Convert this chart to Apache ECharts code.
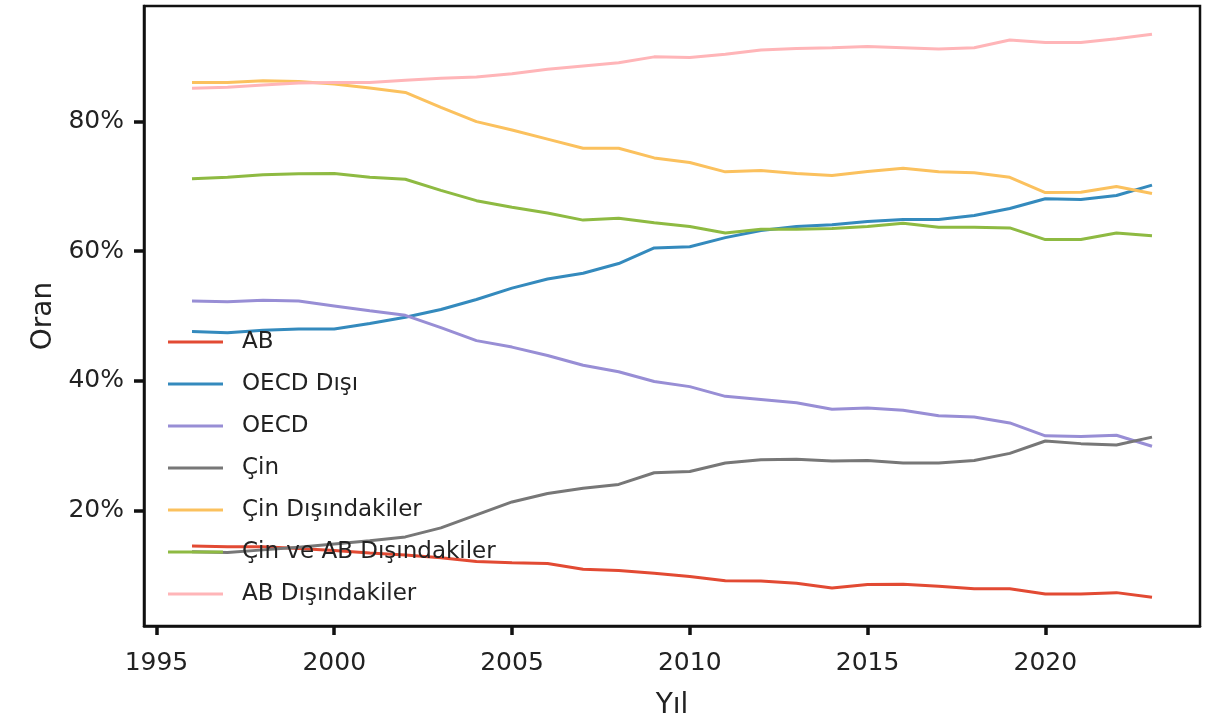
<!DOCTYPE html>
<html>
<head>
<meta charset="utf-8">
<script src="https://cdn.jsdelivr.net/npm/echarts@6/dist/echarts.min.js"></script>
<style>
html,body{margin:0;padding:0;background:#fff;}
#chart{width:1217px;height:725px;}
</style>
</head>
<body>
<div id="chart"></div>
<script>
const years = [1996,1997,1998,1999,2000,2001,2002,2003,2004,2005,2006,2007,2008,2009,2010,2011,2012,2013,2014,2015,2016,2017,2018,2019,2020,2021,2022,2023];

const seriesNames = ['AB','OECD Dışı','OECD','Çin','Çin Dışındakiler','Çin ve AB Dışındakiler','AB Dışındakiler'];

const ab          = [14.5,14.4,14.4,14.1,13.8,13.4,13.1,12.7,12.1,11.9,11.8,10.9,10.7,10.3,9.8,9.15,9.1,8.75,8.0,8.55,8.6,8.3,7.9,7.9,7.1,7.1,7.3,6.6];
const oecdDisi    = [47.6,47.4,47.8,48.0,48.0,48.85,49.8,51.0,52.55,54.3,55.7,56.6,58.1,60.5,60.7,62.1,63.2,63.8,64.1,64.6,64.9,64.9,65.5,66.6,68.1,68.0,68.6,70.2];
const oecd        = [52.3,52.2,52.45,52.3,51.55,50.8,50.1,48.2,46.2,45.2,43.9,42.4,41.4,39.9,39.1,37.6,37.1,36.6,35.6,35.8,35.45,34.6,34.4,33.5,31.5,31.4,31.6,29.9];
const cin         = [13.6,13.5,13.9,14.3,14.8,15.3,15.9,17.3,19.3,21.3,22.6,23.4,24.0,25.8,26.0,27.3,27.8,27.9,27.6,27.7,27.3,27.3,27.7,28.8,30.7,30.3,30.1,31.3];
const cinDisinda  = [86.05,86.05,86.3,86.2,85.8,85.2,84.5,82.2,80.0,78.7,77.3,75.9,75.9,74.4,73.7,72.25,72.45,72.0,71.7,72.3,72.8,72.25,72.1,71.4,69.05,69.1,70.0,68.9];
const cinAbDisinda= [71.2,71.4,71.8,71.95,72.0,71.4,71.1,69.4,67.8,66.8,65.9,64.8,65.1,64.4,63.8,62.8,63.4,63.4,63.5,63.8,64.3,63.7,63.7,63.6,61.8,61.8,62.8,62.4];
const abDisinda   = [85.15,85.3,85.65,85.95,86.05,86.05,86.4,86.7,86.9,87.4,88.1,88.6,89.1,90.0,89.9,90.4,91.05,91.3,91.4,91.6,91.4,91.2,91.4,92.6,92.2,92.2,92.8,93.5];

const xTicks = [1995,2000,2005,2010,2015,2020];
const yTicks = [20,40,60,80];

const allValues = [ab,oecdDisi,oecd,cin,cinDisinda,cinAbDisinda,abDisinda];
const colors = ['#E24A33','#348ABD','#988ED5','#777777','#FBC15E','#8EBA42','#FFB5B8'];

const FONT = 'DejaVu Sans';

const chart = echarts.init(document.getElementById('chart'));
const series = seriesNames.map((n,i)=>({
  name:n, type:'line', symbol:'none', showSymbol:false,
  data: years.map((y,j)=>[y, allValues[i][j]]),
  lineStyle:{width:3, color:colors[i]},
  itemStyle:{color:colors[i]},
  z:2
}));

chart.setOption({
  animation:false,
  backgroundColor:'#fff',
  grid:{left:144,right:17,top:6,bottom:95,show:true,borderColor:'#111',borderWidth:2.5},
  xAxis:{
    type:'value', min:1994.65, max:2024.35,
    name:'Yıl', nameLocation:'middle', nameGap:66,
    nameTextStyle:{fontFamily:FONT,fontSize:28,color:'#222'},
    axisLine:{show:true,onZero:false,lineStyle:{color:'#111',width:2.5}},
    axisTick:{show:true,customValues:xTicks,length:9,lineStyle:{color:'#111',width:3.5}},
    axisLabel:{customValues:xTicks,fontFamily:FONT,fontSize:25,color:'#222',margin:25,formatter:v=>String(v)},
    splitLine:{show:false}
  },
  yAxis:{
    type:'value', min:2.15, max:97.85,
    name:'Oran', nameLocation:'middle', nameGap:86, nameRotate:90,
    nameTextStyle:{fontFamily:FONT,fontSize:28,color:'#222'},
    axisLine:{show:true,onZero:false,lineStyle:{color:'#111',width:2.5}},
    axisTick:{show:true,customValues:yTicks,length:10,lineStyle:{color:'#111',width:3.5}},
    axisLabel:{customValues:yTicks,fontFamily:FONT,fontSize:25,color:'#222',margin:20,formatter:v=>v+'%'},
    splitLine:{show:false}
  },
  legend:{
    orient:'vertical', left:163, top:325,
    data:seriesNames,
    icon:'rect',
    itemWidth:55, itemHeight:3, itemGap:18,
    textStyle:{fontFamily:FONT,fontSize:23,color:'#222',padding:[0,0,0,14],lineHeight:24}
  },
  series:series
});
</script>
</body>
</html>
